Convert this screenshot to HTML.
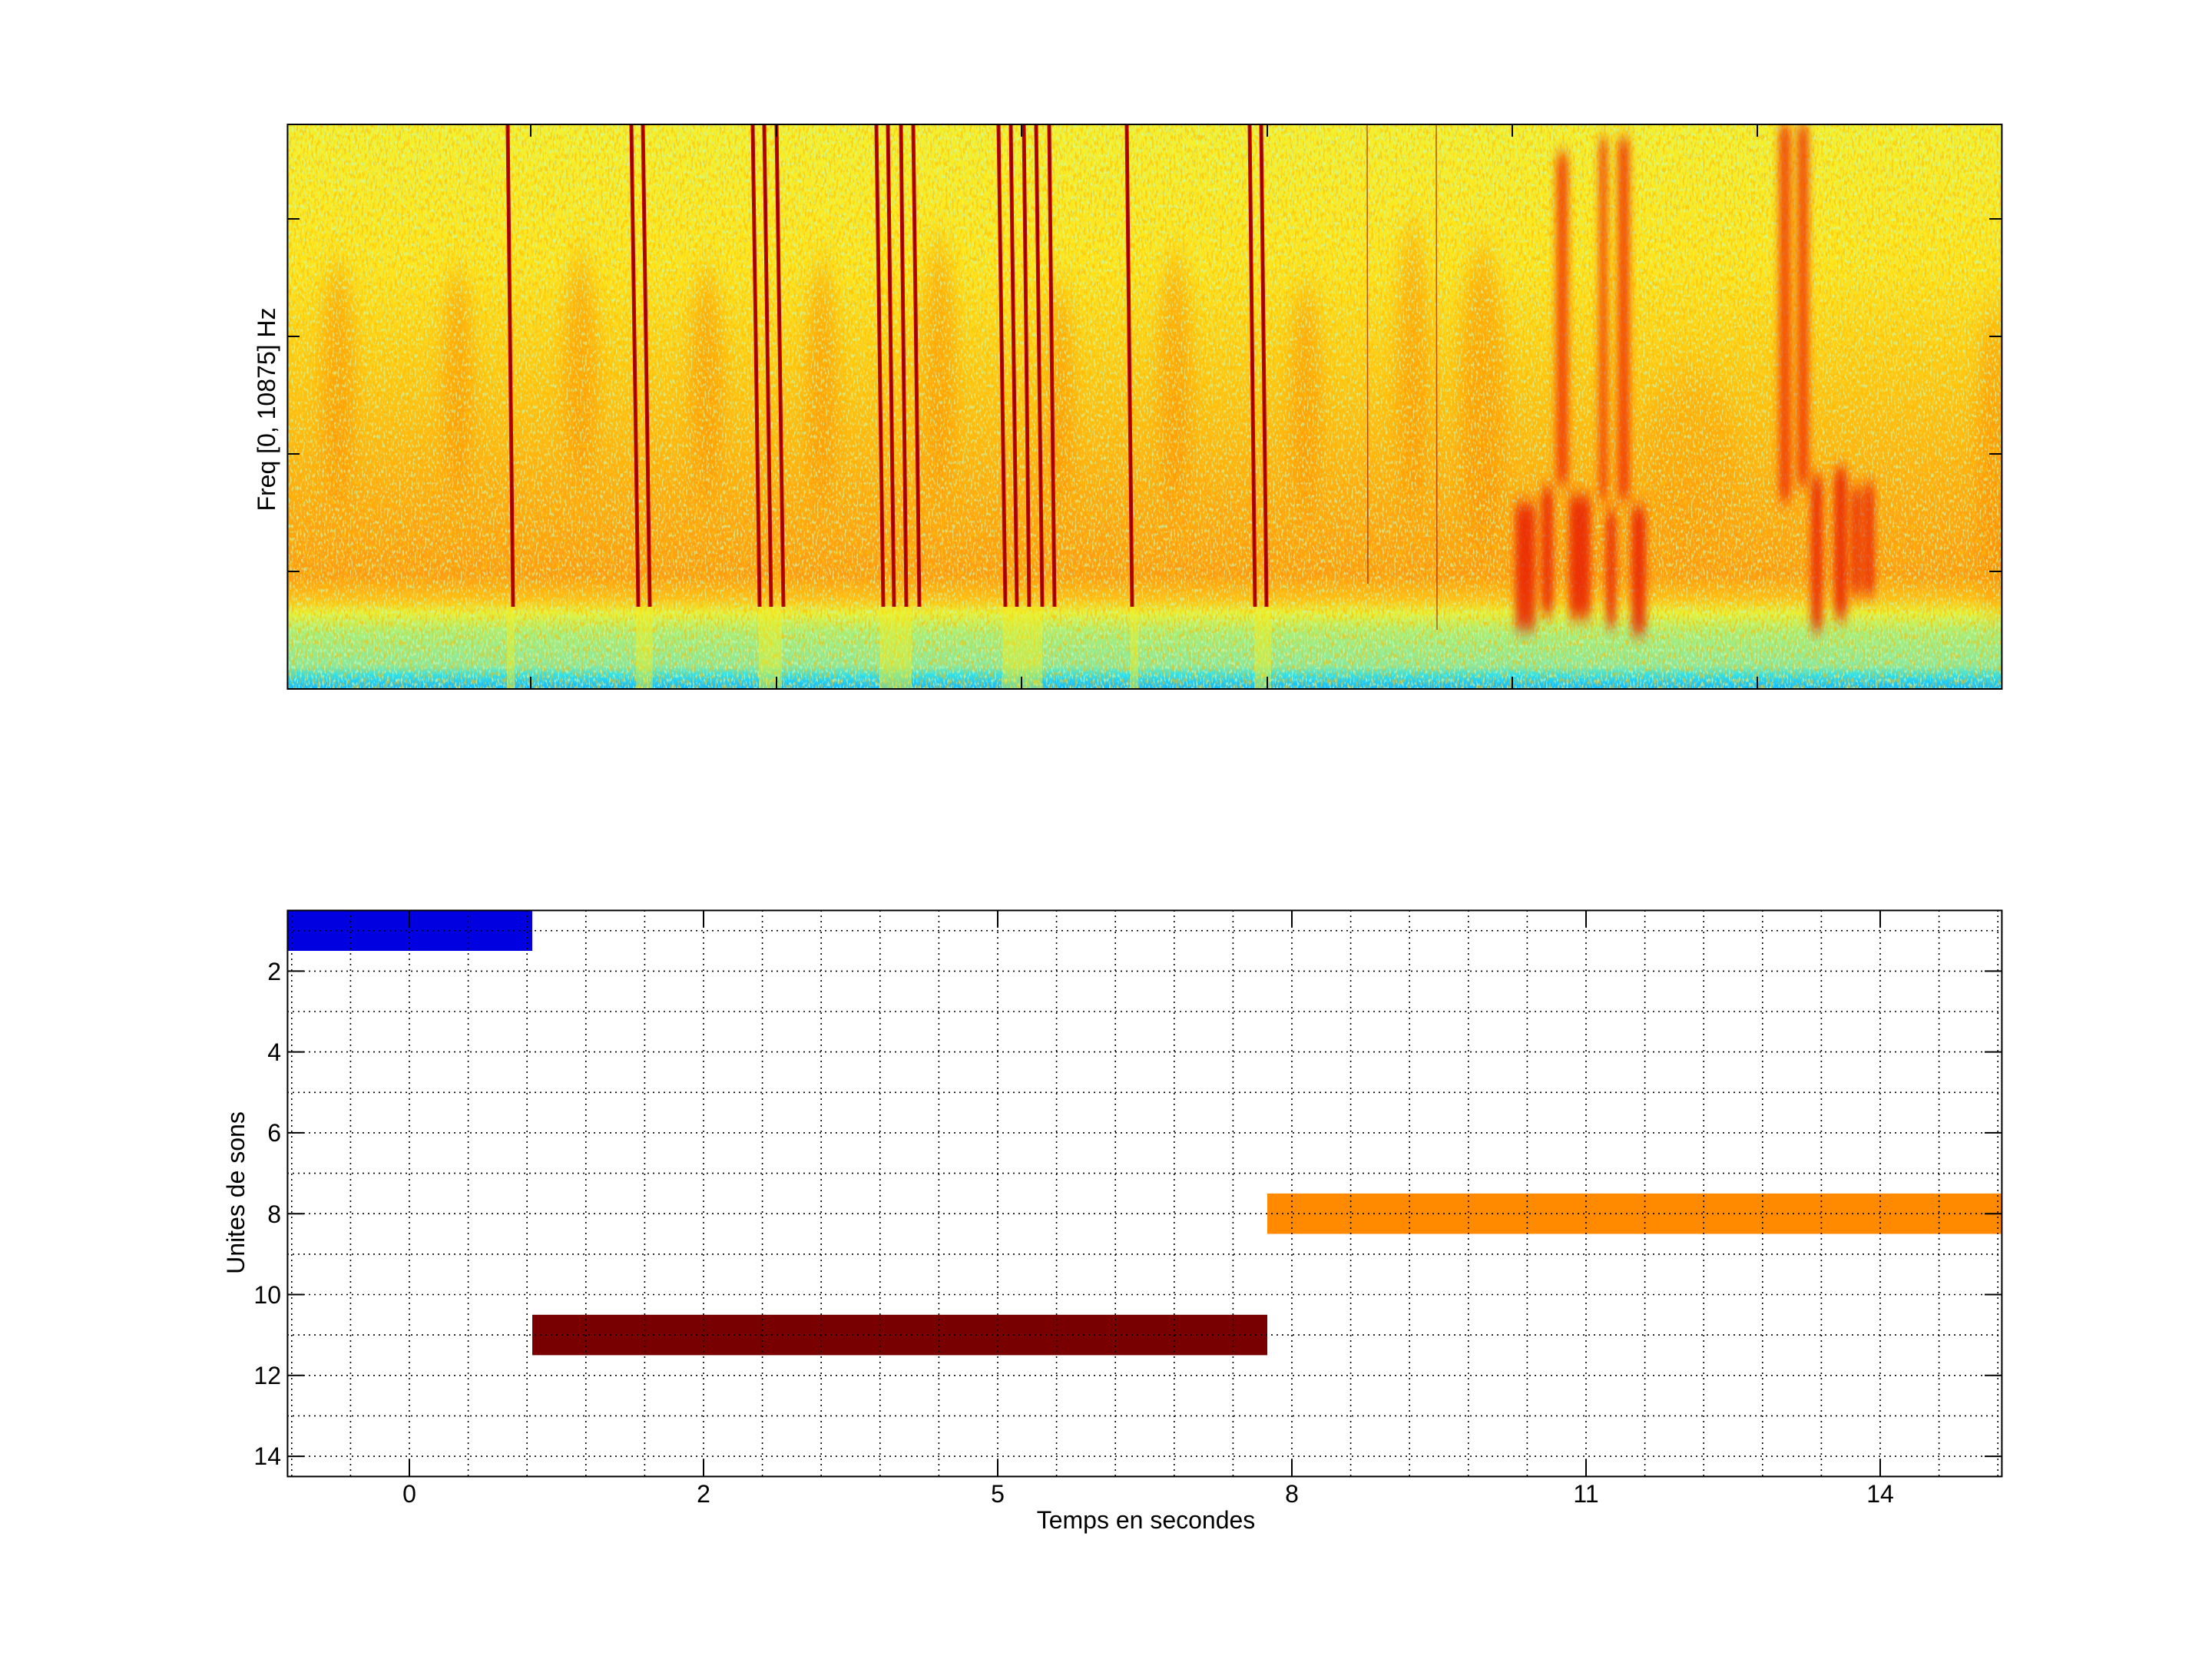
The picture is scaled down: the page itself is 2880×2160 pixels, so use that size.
<!DOCTYPE html>
<html><head><meta charset="utf-8"><style>html,body{margin:0;padding:0;background:#fff}svg{display:block}</style></head>
<body>
<svg xmlns="http://www.w3.org/2000/svg" width="2880" height="2160" viewBox="0 0 2880 2160" font-family="Liberation Sans, sans-serif">
<defs>
<clipPath id="cp"><rect x="374.4" y="162" width="2232" height="735"/></clipPath>
<linearGradient id="bg" x1="0" y1="162" x2="0" y2="897" gradientUnits="userSpaceOnUse">
<stop offset="0" stop-color="#f4f02c"/>
<stop offset="0.25" stop-color="#ffe41a"/>
<stop offset="0.45" stop-color="#ffc814"/>
<stop offset="0.65" stop-color="#ffac12"/>
<stop offset="0.8" stop-color="#ff9c12"/>
<stop offset="0.84" stop-color="#ffc018"/>
<stop offset="0.865" stop-color="#e8f034"/>
<stop offset="0.9" stop-color="#a8ee78"/>
<stop offset="0.96" stop-color="#88e8a0"/>
<stop offset="0.975" stop-color="#30e0e8"/>
<stop offset="1" stop-color="#10b8ff"/>
</linearGradient>
<filter id="n1" x="0" y="0" width="1" height="1"><feTurbulence type="fractalNoise" baseFrequency="0.45 0.18" numOctaves="2" seed="3"/><feColorMatrix type="matrix" values="0 0 0 0 0.55  0 0 0 0 0.98  0 0 0 0 0.5  6 0 0 0 -3.2"/></filter>
<filter id="n2" x="0" y="0" width="1" height="1"><feTurbulence type="fractalNoise" baseFrequency="0.35 0.12" numOctaves="2" seed="9"/><feColorMatrix type="matrix" values="0 0 0 0 1  0 0 0 0 0.5  0 0 0 0 0  6 0 0 0 -3"/></filter>
<filter id="bl" x="-50%" y="-20%" width="200%" height="140%"><feGaussianBlur stdDeviation="10 25"/></filter>
<filter id="bs" x="-50%" y="-20%" width="200%" height="140%"><feGaussianBlur stdDeviation="5 10"/></filter>
</defs>

<g clip-path="url(#cp)">
<rect x="374" y="162" width="2233" height="735" fill="url(#bg)"/>
<g filter="url(#bl)" fill="#ff8a00" opacity="0.55">
<ellipse cx="440" cy="500" rx="22" ry="160"/><ellipse cx="596" cy="500" rx="20" ry="150"/>
<ellipse cx="756" cy="480" rx="22" ry="150"/><ellipse cx="920" cy="500" rx="22" ry="150"/>
<ellipse cx="1070" cy="500" rx="20" ry="160"/><ellipse cx="1223" cy="480" rx="22" ry="170"/>
<ellipse cx="1380" cy="520" rx="18" ry="150"/><ellipse cx="1530" cy="500" rx="22" ry="170"/>
<ellipse cx="1700" cy="520" rx="20" ry="150"/><ellipse cx="1840" cy="480" rx="22" ry="190"/>
<ellipse cx="1930" cy="520" rx="30" ry="200"/><ellipse cx="2595" cy="600" rx="20" ry="200"/>
<ellipse cx="2200" cy="600" rx="60" ry="120" opacity="0.5"/>
</g>
<rect x="374" y="162" width="2233" height="735" filter="url(#n2)" opacity="0.6"/>
<rect x="374" y="162" width="2233" height="735" filter="url(#n1)" opacity="0.65"/>
<g filter="url(#bs)" fill="#f02000" opacity="0.75">
<rect x="2026" y="200" width="16" height="430"/><rect x="2082" y="180" width="11" height="470"/>
<rect x="2106" y="180" width="16" height="470"/><rect x="2316" y="162" width="16" height="490"/>
<rect x="2340" y="162" width="15" height="470"/>
</g>
<g filter="url(#bs)" fill="#e81800" opacity="0.8">
<rect x="1973" y="655" width="26" height="165"/><rect x="2007" y="635" width="15" height="165"/>
<rect x="2043" y="645" width="28" height="160"/><rect x="2091" y="665" width="13" height="150"/>
<rect x="2124" y="660" width="19" height="165"/><rect x="2358" y="620" width="15" height="200"/>
<rect x="2388" y="610" width="17" height="195"/><rect x="2411" y="635" width="12" height="140"/>
<rect x="2427" y="630" width="13" height="145"/>
</g>
<g fill="#f4f020" opacity="0.45">
<rect x="660" y="790" width="10" height="107"/><rect x="828" y="790" width="22" height="107"/>
<rect x="988" y="790" width="30" height="107"/><rect x="1145" y="790" width="42" height="107"/>
<rect x="1305" y="790" width="52" height="107"/><rect x="1472" y="790" width="10" height="107"/>
<rect x="1633" y="790" width="22" height="107"/>
</g>
<g stroke="#c80000" stroke-width="5" fill="none">
<line x1="661" y1="162" x2="668" y2="790"/>
<line x1="822" y1="162" x2="831" y2="790"/><line x1="837" y1="162" x2="846" y2="790"/>
<line x1="980" y1="162" x2="989" y2="790"/><line x1="995" y1="162" x2="1004" y2="790"/><line x1="1011" y1="162" x2="1020" y2="790"/>
<line x1="1141" y1="162" x2="1150" y2="790"/><line x1="1156" y1="162" x2="1164" y2="790"/><line x1="1173" y1="162" x2="1180" y2="790"/><line x1="1189" y1="162" x2="1197" y2="790"/>
<line x1="1300" y1="162" x2="1309" y2="790"/><line x1="1316" y1="162" x2="1324" y2="790"/><line x1="1333" y1="162" x2="1340" y2="790"/><line x1="1349" y1="162" x2="1357" y2="790"/><line x1="1366" y1="162" x2="1373" y2="790"/>
<line x1="1467" y1="162" x2="1474" y2="790"/>
<line x1="1627" y1="162" x2="1634" y2="790"/><line x1="1642" y1="162" x2="1649" y2="790"/>
</g>
<g stroke="#800000" stroke-width="1.5" fill="none">
<line x1="661" y1="162" x2="668" y2="790"/>
<line x1="822" y1="162" x2="831" y2="790"/><line x1="837" y1="162" x2="846" y2="790"/>
<line x1="980" y1="162" x2="989" y2="790"/><line x1="995" y1="162" x2="1004" y2="790"/><line x1="1011" y1="162" x2="1020" y2="790"/>
<line x1="1141" y1="162" x2="1150" y2="790"/><line x1="1156" y1="162" x2="1164" y2="790"/><line x1="1173" y1="162" x2="1180" y2="790"/><line x1="1189" y1="162" x2="1197" y2="790"/>
<line x1="1300" y1="162" x2="1309" y2="790"/><line x1="1316" y1="162" x2="1324" y2="790"/><line x1="1333" y1="162" x2="1340" y2="790"/><line x1="1349" y1="162" x2="1357" y2="790"/><line x1="1366" y1="162" x2="1373" y2="790"/>
<line x1="1467" y1="162" x2="1474" y2="790"/>
<line x1="1627" y1="162" x2="1634" y2="790"/><line x1="1642" y1="162" x2="1649" y2="790"/>
</g>
<g stroke="#8a0000" stroke-width="1.5" fill="none" opacity="0.6">
<line x1="1780" y1="162" x2="1781" y2="760"/><line x1="1870" y1="162" x2="1871" y2="820"/>
</g>
</g>
<rect x="374.4" y="162" width="2232" height="735" fill="none" stroke="#000" stroke-width="2"/>
<g stroke="#000" stroke-width="2">
<line x1="691" y1="162" x2="691" y2="178"/><line x1="1011" y1="162" x2="1011" y2="178"/><line x1="1330" y1="162" x2="1330" y2="178"/><line x1="1650" y1="162" x2="1650" y2="178"/><line x1="1969" y1="162" x2="1969" y2="178"/><line x1="2288" y1="162" x2="2288" y2="178"/>
<line x1="691" y1="897" x2="691" y2="881"/><line x1="1011" y1="897" x2="1011" y2="881"/><line x1="1330" y1="897" x2="1330" y2="881"/><line x1="1650" y1="897" x2="1650" y2="881"/><line x1="1969" y1="897" x2="1969" y2="881"/><line x1="2288" y1="897" x2="2288" y2="881"/>
<line x1="374" y1="285" x2="390" y2="285"/><line x1="374" y1="438" x2="390" y2="438"/><line x1="374" y1="591" x2="390" y2="591"/><line x1="374" y1="744" x2="390" y2="744"/>
<line x1="2606" y1="285" x2="2590" y2="285"/><line x1="2606" y1="438" x2="2590" y2="438"/><line x1="2606" y1="591" x2="2590" y2="591"/><line x1="2606" y1="744" x2="2590" y2="744"/>
</g>
<text x="0" y="0" font-size="32" text-anchor="middle" transform="translate(358,533) rotate(-90)">Freq [0, 10875] Hz</text>

<rect x="374.4" y="1185.4" width="318.6" height="52.6" fill="#0000e0"/>
<rect x="693" y="1711.8" width="957" height="52.6" fill="#780000"/>
<rect x="1650" y="1553.9" width="956.4" height="52.6" fill="#ff8a00"/>
<g stroke="#000" stroke-width="1.6" stroke-dasharray="2,5" fill="none">
<path d="M374 1211.7H2606M374 1264.4H2606M374 1317H2606M374 1369.6H2606M374 1422.3H2606M374 1474.9H2606M374 1527.6H2606M374 1580.2H2606M374 1632.9H2606M374 1685.5H2606M374 1738.1H2606M374 1790.8H2606M374 1843.4H2606M374 1896.1H2606"/>
<path d="M379.8 1185V1922M456.4 1185V1922M533 1185V1922M609.6 1185V1922M686.2 1185V1922M762.8 1185V1922M839.4 1185V1922M916 1185V1922M992.6 1185V1922M1069.2 1185V1922M1145.8 1185V1922M1222.4 1185V1922M1299 1185V1922M1375.6 1185V1922M1452.2 1185V1922M1528.8 1185V1922M1605.4 1185V1922M1682 1185V1922M1758.6 1185V1922M1835.2 1185V1922M1911.8 1185V1922M1988.4 1185V1922M2065 1185V1922M2141.6 1185V1922M2218.2 1185V1922M2294.8 1185V1922M2371.4 1185V1922M2448 1185V1922M2524.6 1185V1922M2601.2 1185V1922"/>
</g>
<rect x="374.4" y="1185.4" width="2232" height="737" fill="none" stroke="#000" stroke-width="2"/>
<g stroke="#000" stroke-width="2">
<path d="M533 1185v22M916 1185v22M1299 1185v22M1682 1185v22M2065 1185v22M2448 1185v22"/>
<path d="M533 1922v-22M916 1922v-22M1299 1922v-22M1682 1922v-22M2065 1922v-22M2448 1922v-22"/>
<path d="M374 1264.4h22M374 1369.6h22M374 1474.9h22M374 1580.2h22M374 1685.5h22M374 1790.8h22M374 1896.1h22"/>
<path d="M2606 1264.4h-22M2606 1369.6h-22M2606 1474.9h-22M2606 1580.2h-22M2606 1685.5h-22M2606 1790.8h-22M2606 1896.1h-22"/>
</g>
<g font-size="32" text-anchor="end">
<text x="366" y="1276">2</text><text x="366" y="1381">4</text><text x="366" y="1486">6</text><text x="366" y="1592">8</text><text x="366" y="1697">10</text><text x="366" y="1802">12</text><text x="366" y="1907">14</text>
</g>
<g font-size="32" text-anchor="middle">
<text x="533" y="1956">0</text><text x="916" y="1956">2</text><text x="1299" y="1956">5</text><text x="1682" y="1956">8</text><text x="2065" y="1956">11</text><text x="2448" y="1956">14</text>
<text x="1492" y="1990">Temps en secondes</text>
<text x="0" y="0" transform="translate(318,1553) rotate(-90)">Unites de sons</text>
</g>
</svg>
</body></html>
